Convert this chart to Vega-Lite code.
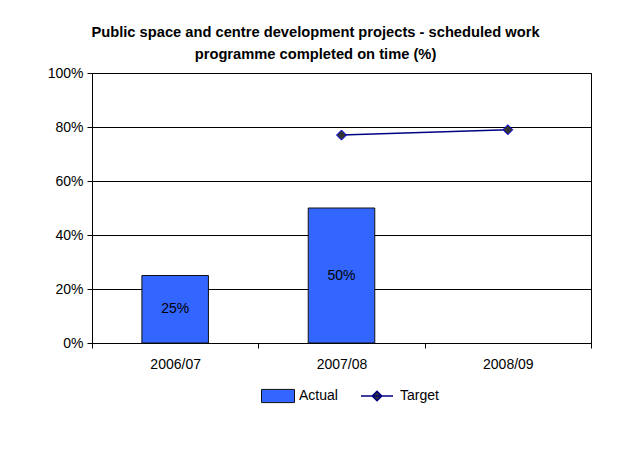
{
  "$schema": "https://vega.github.io/schema/vega-lite/v6.json",
  "width": 499,
  "height": 270,
  "autosize": "none",
  "padding": {"left": 92, "top": 73, "right": 33, "bottom": 125},
  "background": "white",
  "config": {
    "view": {"stroke": "black", "strokeWidth": 1},
    "font": "Liberation Sans"
  },
  "title": {
    "text": ["Public space and centre development projects - scheduled work", "programme completed on time (%)"],
    "font": "Liberation Sans",
    "fontSize": 14.7,
    "fontWeight": "bold",
    "color": "black",
    "anchor": "middle",
    "dx": -26,
    "offset": 4,
    "lineHeight": 22
  },
  "data": {
    "values": [
      {"period": "2006/07", "actual": 0.25, "target": null},
      {"period": "2007/08", "actual": 0.5, "target": 0.77},
      {"period": "2008/09", "actual": null, "target": 0.79}
    ]
  },
  "encoding": {
    "x": {
      "field": "period",
      "type": "nominal",
      "sort": null,
      "scale": {"paddingInner": 0, "paddingOuter": 0},
      "axis": {
        "title": null,
        "labelAngle": 0,
        "tickBand": "extent",
        "domainColor": "black",
        "tickColor": "black",
        "tickSize": 5,
        "labelFont": "Liberation Sans",
        "labelFontSize": 14,
        "labelColor": "black",
        "labelPadding": 9,
        "grid": false
      }
    }
  },
  "layer": [
    {
      "mark": {"type": "bar", "width": {"band": 0.4}, "stroke": "#111111", "strokeWidth": 1},
      "encoding": {
        "y": {
          "field": "actual",
          "type": "quantitative",
          "scale": {"domain": [0, 1]},
          "axis": {
            "title": null,
            "values": [0, 0.2, 0.4, 0.6, 0.8, 1],
            "format": ".0%",
            "grid": true,
            "gridColor": "black",
            "gridOpacity": 1,
            "domainColor": "black",
            "tickColor": "black",
            "tickSize": 5,
            "labelFont": "Liberation Sans",
            "labelFontSize": 14,
            "labelColor": "black",
            "labelPadding": 4
          }
        },
        "fill": {
          "datum": "Actual",
          "type": "nominal",
          "scale": {"range": ["#3366FF"]},
          "legend": {
            "title": null,
            "orient": "none",
            "legendX": 169,
            "legendY": 306,
            "padding": 0,
            "symbolType": "M-1,-0.4H1V0.4H-1Z",
            "symbolSize": 1089,
            "symbolStrokeColor": "#111111",
            "symbolStrokeWidth": 1,
            "labelFont": "Liberation Sans",
            "labelFontSize": 14,
            "labelColor": "black",
            "labelOffset": 4
          }
        }
      }
    },
    {
      "transform": [
        {"filter": "datum.actual != null"},
        {"calculate": "datum.actual / 2", "as": "mid"}
      ],
      "mark": {"type": "text", "font": "Liberation Sans", "fontSize": 14, "color": "black", "baseline": "middle", "align": "center"},
      "encoding": {
        "y": {"field": "mid", "type": "quantitative", "axis": {"title": null}},
        "text": {"field": "actual", "type": "quantitative", "format": ".0%"}
      }
    },
    {
      "mark": {"type": "line", "strokeWidth": 1.5},
      "encoding": {
        "y": {"field": "target", "type": "quantitative", "axis": {"title": null}},
        "stroke": {
          "datum": "Target",
          "type": "nominal",
          "scale": {"range": ["#000080"]},
          "legend": {
            "title": null,
            "orient": "none",
            "legendX": 268,
            "legendY": 306,
            "padding": 0,
            "symbolType": "M-1,0H1M-0.3,0L0,-0.3L0.3,0L0,0.3Z",
            "symbolSize": 1024,
            "symbolStrokeWidth": 1.5,
            "symbolFillColor": "#333333",
            "labelFont": "Liberation Sans",
            "labelFontSize": 14,
            "labelColor": "black",
            "labelOffset": 6
          }
        }
      }
    },
    {
      "mark": {"type": "point", "shape": "diamond", "size": 100, "filled": true, "fill": "#333333", "stroke": "#0000FF", "strokeWidth": 1, "opacity": 1},
      "encoding": {
        "y": {"field": "target", "type": "quantitative", "axis": {"title": null}}
      }
    }
  ]
}
